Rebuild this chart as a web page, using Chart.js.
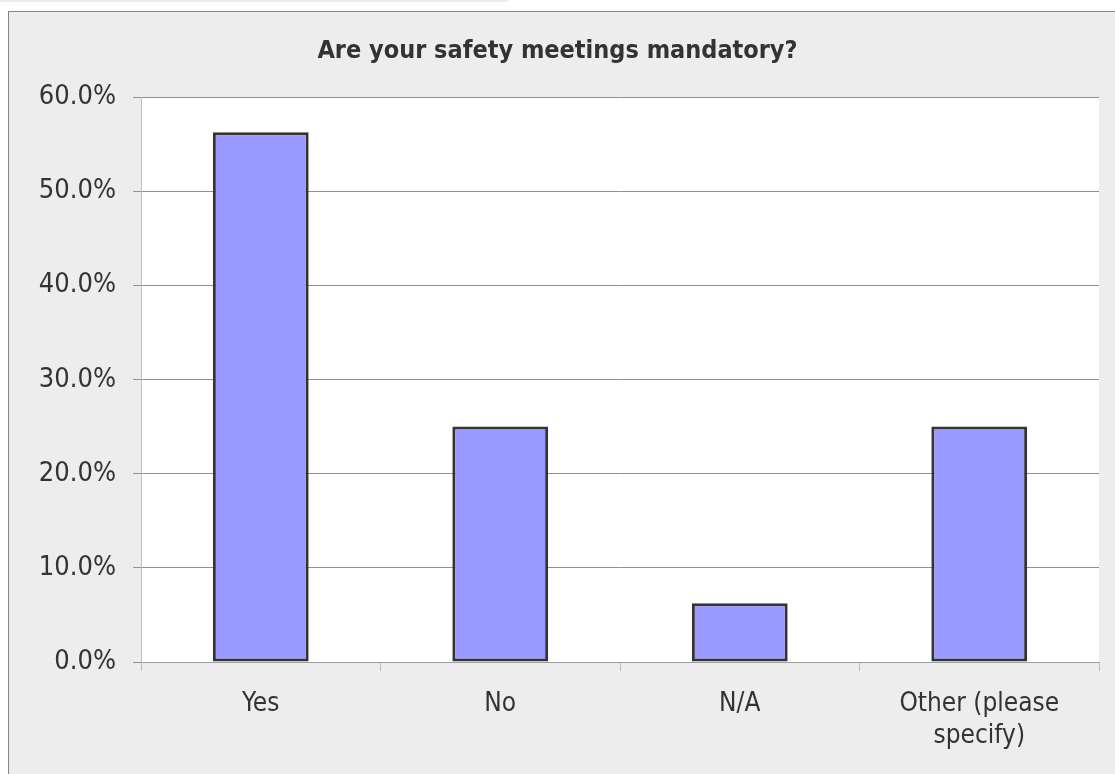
<!DOCTYPE html>
<html>
<head>
<meta charset="utf-8">
<script src="https://cdn.jsdelivr.net/npm/chart.js@4/dist/chart.umd.min.js"></script>
<style>
  html, body { margin: 0; padding: 0; background: #fff; overflow: hidden; }
  #strip { position: absolute; left: 0; top: 0; width: 508px; height: 2px; background: #ececec; }
  #frame { position: absolute; left: 8px; top: 11px; width: 1200px; height: 900px;
           border: 1px solid #858585; background: #ededed; }
  #wrap { position: absolute; left: 0; top: 0; width: 1115px; height: 774px; }
</style>
</head>
<body>
<div id="strip"></div>
<div id="frame"></div>
<div id="wrap"><canvas id="chart" width="1115" height="774"></canvas></div>
<script>
// chart values
const categories = ['Yes', 'No', 'N/A', ['Other (please', 'specify)']];
const percentages = [56.25, 25.0, 6.25, 25.0];
const yTicks = [0, 10, 20, 30, 40, 50, 60];

const FONT = "'DejaVu Sans Condensed', 'DejaVu Sans', sans-serif";

// white plot area like the spreadsheet chart
const plotBackground = {
  id: 'plotBackground',
  beforeDraw(chart) {
    const { ctx, chartArea } = chart;
    ctx.save();
    ctx.fillStyle = '#ffffff';
    ctx.fillRect(chartArea.left, chartArea.top, chartArea.right - chartArea.left, chartArea.bottom - chartArea.top);
    ctx.restore();
  }
};

new Chart(document.getElementById('chart'), {
  type: 'bar',
  data: {
    labels: categories,
    datasets: [{
      label: 'Are your safety meetings mandatory?',
      data: percentages,
      backgroundColor: '#9999ff',
      borderColor: '#333333',
      borderWidth: 3,
      borderSkipped: false,
      categoryPercentage: 0.4,
      barPercentage: 1.0,
    }],
  },
  options: {
    responsive: false,
    animation: false,
    layout: { padding: { left: 16, right: 16, top: 0, bottom: 0 } },
    plugins: {
      legend: { display: false },
      tooltip: { enabled: false },
      title: {
        display: true,
        text: 'Are your safety meetings mandatory?',
        color: '#333333',
        font: { family: FONT, size: 25, weight: 'bold', lineHeight: 1.2 },
        padding: { top: 36, bottom: 31 },
      },
    },
    scales: {
      x: {
        grid: { display: true, drawOnChartArea: false, drawTicks: true, tickLength: 9, offset: true, color: '#bbbbbb' },
        border: { display: true, color: '#a0a0a0' },
        ticks: {
          color: '#333333',
          padding: 18,
          maxRotation: 0,
          autoSkip: false,
          font: { family: FONT, size: 26, lineHeight: 1.2 },
        },
        afterFit(scale) { scale.height = 112; },
      },
      y: {
        min: 0,
        max: 60,
        afterBuildTicks(scale) { scale.ticks = yTicks.map(v => ({ value: v })); },
        grid: { color: '#8f8f8f', tickLength: 8, drawTicks: true },
        border: { display: true, color: '#c0c0c0' },
        ticks: {
          color: '#333333',
          padding: 17,
          font: { family: FONT, size: 27 },
          callback: v => v.toFixed(1) + '%',
        },
        afterFit(scale) { scale.width = 125; },
      },
    },
  },
  plugins: [plotBackground],
});
</script>
</body>
</html>
